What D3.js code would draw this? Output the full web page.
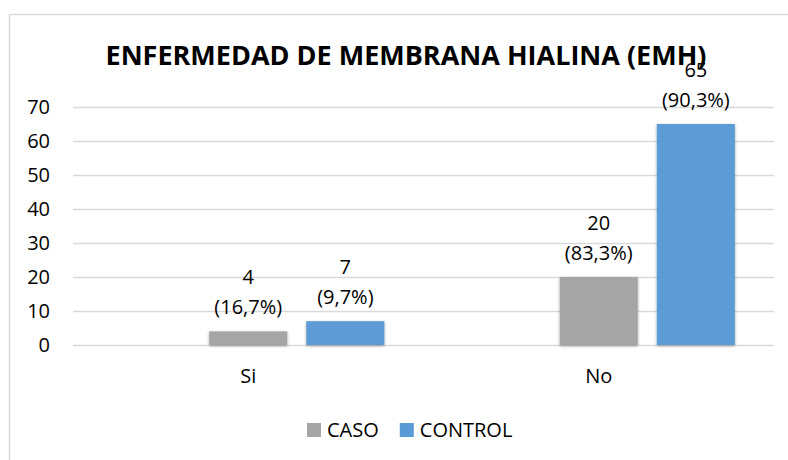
<!DOCTYPE html>
<html lang="es">
<head>
    <meta charset="UTF-8">
    <title>Enfermedad de membrana hialina (EMH)</title>
    <script src="https://d3js.org/d3.v7.min.js"></script>
    <style>
        body { margin: 0; background: #fff; }
        text { font-family: "Open Sans", "Noto Sans", sans-serif; fill: #000; }
    </style>
</head>
<body>
<div id="chart"></div>
<script>
    // data
    const categories = ["Si", "No"];
    const series = ["CASO", "CONTROL"];
    const casoValues = [4, 20];
    const controlValues = [7, 65];
    const casoPct = ["16,7%", "83,3%"];
    const controlPct = ["9,7%", "90,3%"];
    const yTicks = [0, 10, 20, 30, 40, 50, 60, 70];
    const colors = { CASO: "#A5A5A5", CONTROL: "#5B9BD5" };

    const svg = d3.select("#chart").append("svg").attr("width", 788).attr("height", 460);

    const defs = svg.append("defs");
    const shadow = defs.append("filter").attr("id", "shadow")
        .attr("x", "-20%").attr("y", "-20%").attr("width", "140%").attr("height", "140%");
    shadow.append("feDropShadow")
        .attr("dx", 0).attr("dy", 1).attr("stdDeviation", 1.6)
        .attr("flood-color", "#000").attr("flood-opacity", 0.35);

    // chart border (right/bottom edges fall outside the picture)
    svg.append("rect")
        .attr("x", 9.5).attr("y", 14.5).attr("width", 820).attr("height", 500)
        .attr("fill", "none").attr("stroke", "#d9d9d9").attr("stroke-width", 1.5);

    const plot = { left: 73, right: 774, top: 107, bottom: 345 };

    const y = d3.scaleLinear().domain([0, 70]).range([plot.bottom, plot.top]);
    const x0 = d3.scaleBand().domain(categories).range([plot.left, plot.right]);

    // Excel places the series in slots 2 and 3 of a 3-slot cluster
    const step = x0.bandwidth() * 0.277;
    const x1 = d3.scaleBand().domain(series)
        .range([-step / 2, step * 1.5])
        .paddingInner(0.196).paddingOuter(0.098);

    // gridlines + y labels
    const yAxis = svg.append("g").attr("transform", `translate(${plot.left},0)`)
        .call(d3.axisLeft(y).tickValues(yTicks).tickSize(-(plot.right - plot.left)).tickPadding(23));
    yAxis.select(".domain").remove();
    yAxis.selectAll(".tick line").attr("stroke", "#d9d9d9").attr("stroke-width", 1.5);
    yAxis.selectAll(".tick text")
        .attr("font-size", 20).attr("font-family", "Open Sans, Noto Sans, sans-serif").attr("fill", "#000");

    // category labels
    svg.append("g").selectAll("text").data(categories).join("text")
        .attr("x", d => x0(d) + x0.bandwidth() / 2)
        .attr("y", 383)
        .attr("text-anchor", "middle")
        .attr("font-size", 20)
        .text(d => d);

    const rows = [];
    categories.forEach((c, i) => {
        rows.push({ cat: c, key: "CASO", value: casoValues[i], pct: casoPct[i] });
        rows.push({ cat: c, key: "CONTROL", value: controlValues[i], pct: controlPct[i] });
    });
    const cx = d => x0(d.cat) + x0.bandwidth() / 2 + x1(d.key);

    svg.append("g").selectAll("rect").data(rows).join("rect")
        .attr("x", d => cx(d))
        .attr("y", d => y(d.value))
        .attr("width", x1.bandwidth())
        .attr("height", d => y(0) - y(d.value))
        .attr("fill", d => colors[d.key])
        .attr("filter", "url(#shadow)");

    const labels = svg.append("g").selectAll("g").data(rows).join("g")
        .attr("transform", d => `translate(${cx(d) + x1.bandwidth() / 2},${y(d.value)})`);
    labels.append("text")
        .attr("y", -47).attr("text-anchor", "middle").attr("font-size", 20)
        .text(d => d.value);
    labels.append("text")
        .attr("y", -17).attr("text-anchor", "middle").attr("font-size", 20)
        .text(d => `(${d.pct})`);

    // title
    svg.append("text")
        .attr("x", 406).attr("y", 65)
        .attr("text-anchor", "middle")
        .attr("font-size", 27).attr("font-weight", "bold")
        .text("ENFERMEDAD DE MEMBRANA HIALINA (EMH)");

    // legend
    const legend = svg.append("g");
    let lx = 307;
    series.forEach(s => {
        legend.append("rect").attr("x", lx).attr("y", 423).attr("width", 14).attr("height", 14)
            .attr("fill", colors[s]);
        const t = legend.append("text").attr("x", lx + 20).attr("y", 437)
            .attr("font-size", 20).text(s);
        lx += 20 + t.node().getComputedTextLength() + 21;
    });
</script>
</body>
</html>
